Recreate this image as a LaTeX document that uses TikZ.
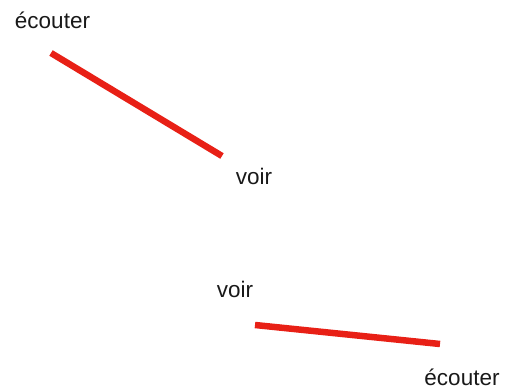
\documentclass[tikz,border=0pt]{standalone}
\usepackage{fontspec}
\setmainfont{Liberation Sans}
\definecolor{linered}{RGB}{232,32,22}
\begin{document}
\begin{tikzpicture}[x=1pt,y=-1pt,
  lbl/.style={anchor=base,inner sep=0pt,font=\fontsize{22.5}{26}\selectfont,text=black!90},
  bar/.style={draw=linered,line width=6.5pt}]
\useasboundingbox (0,0) rectangle (509,390);
\node[lbl] (e1) at (52.5,29) {écouter};
\node[lbl] (v1) at (254,185) {voir};
\node[lbl] (v2) at (235,298) {voir};
\node[lbl] (e2) at (462,385) {écouter};
\coordinate (a1) at (51,53);
\coordinate (b1) at (222,156);
\coordinate (a2) at (255,325);
\coordinate (b2) at (440,344);
\draw[bar] (a1) -- (b1);
\draw[bar] (a2) -- (b2);
\end{tikzpicture}
\end{document}
